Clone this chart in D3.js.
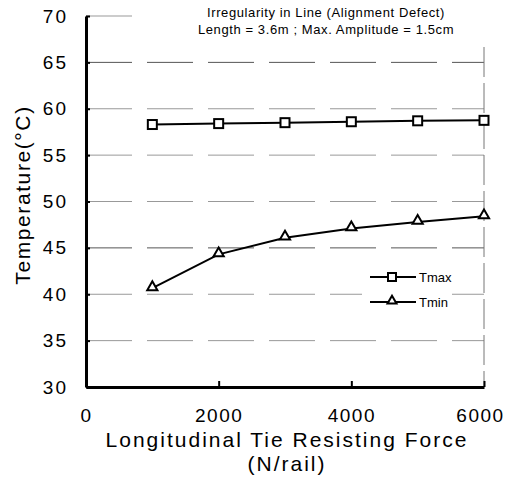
<!DOCTYPE html>
<html><head><meta charset="utf-8">
<script src="https://cdn.jsdelivr.net/npm/d3@7"></script>
<style>body{margin:0;background:#fff}svg{display:block}text{font-family:"Liberation Sans",Arial,sans-serif}</style>
</head><body>
<script>
const forces = [1000, 2000, 3000, 4000, 5000, 6000];
const tmax = [58.3, 58.4, 58.5, 58.6, 58.7, 58.75];
const tmin = [40.65, 44.3, 46.1, 47.1, 47.8, 48.4];
const xTicks = [0, 2000, 4000, 6000];
const yTicks = [30, 35, 40, 45, 50, 55, 60, 65, 70];
const seriesNames = ["Tmax", "Tmin"];
const titleLines = ["Irregularity in Line (Alignment Defect)", "Length = 3.6m ; Max. Amplitude = 1.5cm"];

const W = 509, H = 478;
const svg = d3.select("body").append("svg").attr("width", W).attr("height", H);
const x = d3.scaleLinear().domain([0, 6000]).range([86, 484]);
const y = d3.scaleLinear().domain([30, 70]).range([387, 16]);

// gridlines
svg.append("g").selectAll("line").data(yTicks.filter(v => v > 30 && v < 70)).join("line")
  .attr("x1", x(0)).attr("x2", x(6000)).attr("y1", d => y(d)).attr("y2", d => y(d))
  .attr("stroke", d => (d === 65 || d === 45) ? "#555" : "#999").attr("stroke-width", 1)
  .attr("stroke-dasharray", "46,15");
// top short line at 70
svg.append("line").attr("x1", x(0)).attr("x2", x(0) + 46).attr("y1", y(70)).attr("y2", y(70))
  .attr("stroke", "#999");
// right dashed border
svg.append("line").attr("x1", x(6000)).attr("x2", x(6000)).attr("y1", 47).attr("y2", y(30))
  .attr("stroke", "#777").attr("stroke-dasharray", "30,6");

// axes
const yAxis = d3.axisLeft(y).tickValues(yTicks).tickSizeInner(-4).tickSizeOuter(0).tickPadding(20);
const gy = svg.append("g").attr("transform", `translate(${x(0)},0)`).call(yAxis);
gy.select(".domain").attr("stroke", "#000").attr("stroke-width", 3);
gy.selectAll(".tick line").attr("stroke", "#000").attr("stroke-width", 2);
gy.selectAll(".tick text").attr("font-size", 19).attr("fill", "#000").attr("letter-spacing", 2).attr("dx", 2);

const xAxis = d3.axisBottom(x).tickValues(xTicks).tickFormat(d3.format("d")).tickSizeInner(-6).tickSizeOuter(0).tickPadding(22);
const gx = svg.append("g").attr("transform", `translate(0,${y(30)})`).call(xAxis);
gx.select(".domain").attr("stroke", "#000").attr("stroke-width", 3);
gx.selectAll(".tick line").attr("stroke", "#000").attr("stroke-width", 2).attr("opacity", d => d === 0 ? 0 : 1);
gx.selectAll(".tick text").attr("font-size", 19).attr("fill", "#000").attr("letter-spacing", 1.5)
  .attr("dx", d => d === 6000 ? -4 : 0);

// lines
const line = d3.line().x((d, i) => x(forces[i])).y(d => y(d));
[tmax, tmin].forEach(s => {
  svg.append("path").datum(s).attr("d", line).attr("fill", "none").attr("stroke", "#000").attr("stroke-width", 2);
});
const sq = 9;
svg.append("g").selectAll("rect").data(tmax).join("rect")
  .attr("x", (d, i) => x(forces[i]) - sq / 2).attr("y", d => y(d) - sq / 2)
  .attr("width", sq).attr("height", sq).attr("fill", "#fff").attr("stroke", "#000").attr("stroke-width", 2);
const tri = d3.symbol().type(d3.symbolTriangle).size(45);
svg.append("g").selectAll("path").data(tmin).join("path")
  .attr("transform", (d, i) => `translate(${x(forces[i])},${y(d) - 1})`)
  .attr("d", tri).attr("fill", "#fff").attr("stroke", "#000").attr("stroke-width", 2);

// legend
const lg = svg.append("g");
lg.append("rect").attr("x", 362).attr("y", 266).attr("width", 80).attr("height", 46).attr("fill", "#fff");
[277, 302].forEach((ly, k) => {
  lg.append("line").attr("x1", 370).attr("x2", 416).attr("y1", ly).attr("y2", ly).attr("stroke", "#000").attr("stroke-width", 2);
  if (k === 0) lg.append("rect").attr("x", 392 - 4).attr("y", ly - 4).attr("width", 8).attr("height", 8)
    .attr("fill", "#fff").attr("stroke", "#000").attr("stroke-width", 2);
  else lg.append("path").attr("transform", `translate(392,${ly - 1})`).attr("d", d3.symbol().type(d3.symbolTriangle).size(35))
    .attr("fill", "#fff").attr("stroke", "#000").attr("stroke-width", 2);
  lg.append("text").attr("x", 419).attr("y", ly + 5).attr("font-size", 13).text(seriesNames[k]);
});

// title
titleLines.forEach((t, i) => svg.append("text").attr("x", 326).attr("y", 17 + i * 17)
  .attr("text-anchor", "middle").attr("font-size", 13).attr("letter-spacing", 0.6).text(t));

// axis titles
svg.append("text").attr("x", 287).attr("y", 447).attr("text-anchor", "middle").attr("font-size", 21)
  .attr("letter-spacing", 2).text("Longitudinal Tie Resisting Force");
svg.append("text").attr("x", 287).attr("y", 471).attr("text-anchor", "middle").attr("font-size", 21)
  .attr("letter-spacing", 2).text("(N/rail)");
svg.append("text").attr("transform", "translate(30,195) rotate(-90)").attr("text-anchor", "middle")
  .attr("font-size", 21).attr("letter-spacing", 1.6).text("Temperature(°C)");
</script>
</body></html>
